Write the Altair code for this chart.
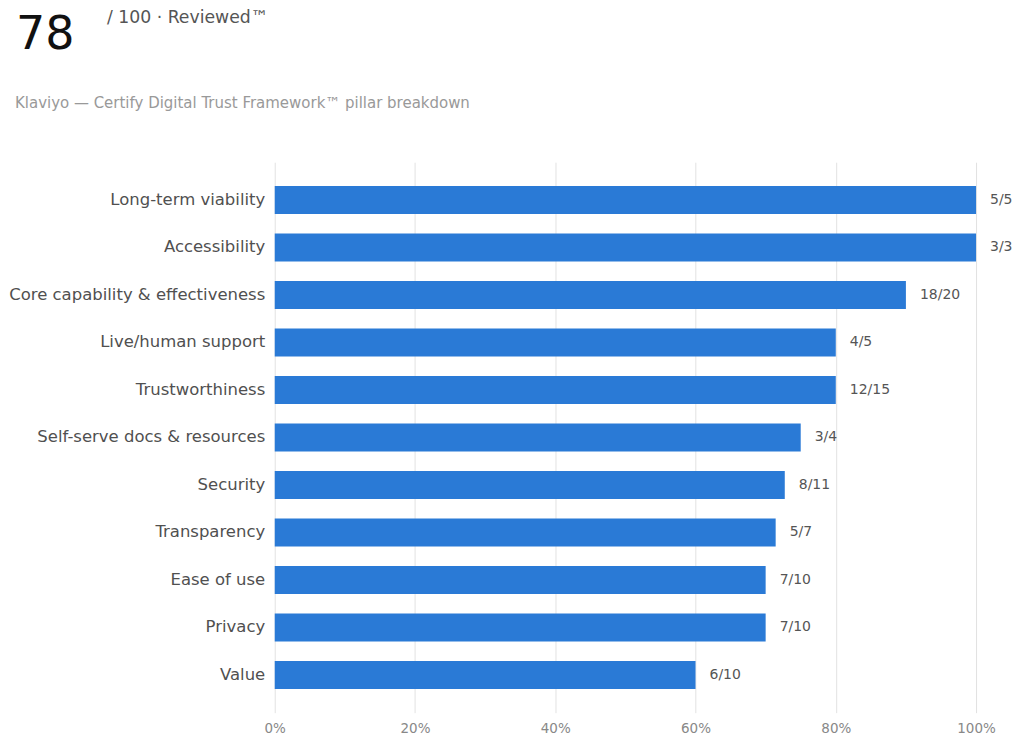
import altair as alt
import pandas as pd

# pillar scores, top to bottom
pillars = [
    "Long-term viability", "Accessibility", "Core capability & effectiveness",
    "Live/human support", "Trustworthiness", "Self-serve docs & resources",
    "Security", "Transparency", "Ease of use", "Privacy", "Value",
]
earned = [5, 3, 18, 4, 12, 3, 8, 5, 7, 7, 6]
possible = [5, 3, 20, 5, 15, 4, 11, 7, 10, 10, 10]

score_text = ["78"]
score_suffix = ["/ 100 · Reviewed™"]
subtitle_text = ["Klaviyo — Certify Digital Trust Framework™ pillar breakdown"]

df = pd.DataFrame({"pillar": pillars, "earned": earned, "possible": possible})
df["pct"] = df["earned"] / df["possible"]
df["label"] = [f"{e}/{p}" for e, p in zip(earned, possible)]

FONT = "DejaVu Sans"

base = alt.Chart(df).encode(
    y=alt.Y("pillar:N", sort=None, title=None,
            scale=alt.Scale(paddingInner=0.41, paddingOuter=0.5),
            axis=alt.Axis(domain=False, ticks=False, grid=False, labelPadding=10,
                          labelFontSize=16.5, labelColor="#505050", labelFont=FONT,
                          labelLimit=400)),
)

bars = base.mark_bar(color="#2a7ad6").encode(
    x=alt.X("pct:Q", title=None,
            scale=alt.Scale(domain=[0, 1], nice=False),
            axis=alt.Axis(format="%", values=[0, 0.2, 0.4, 0.6, 0.8, 1.0],
                          domain=False, ticks=False, grid=True, gridColor="#e2e2e2",
                          labelFontSize=13.5, labelColor="#888888", labelFont=FONT,
                          labelPadding=9, labelFlush=False)),
)

labels = base.mark_text(align="left", dx=14, fontSize=14, color="#555555", font=FONT).encode(
    x="pct:Q",
    text="label:N",
)


# header texts, placed relative to the plot area's top-left corner
def header(txt, x, y, size, color):
    return alt.Chart(pd.DataFrame({"t": txt})).mark_text(
        align="left", baseline="alphabetic", fontSize=size, color=color, font=FONT
    ).encode(text="t:N", x=alt.value(x), y=alt.value(y))


big = header(score_text, -259, -113, 46, "#111111")
sub1 = header(score_suffix, -168, -139, 17.3, "#555555")
sub2 = header(subtitle_text, -260, -54, 15, "#999999")

chart = alt.layer(bars, labels, big, sub1, sub2).properties(
    width=702,
    height=551,
    autosize=alt.AutoSizeParams(type="none"),
    padding={"left": 267, "top": 154, "right": 40, "bottom": 30},
).configure_view(stroke=None)

chart.save("out.html", embed_options={"renderer": "svg", "actions": False})
